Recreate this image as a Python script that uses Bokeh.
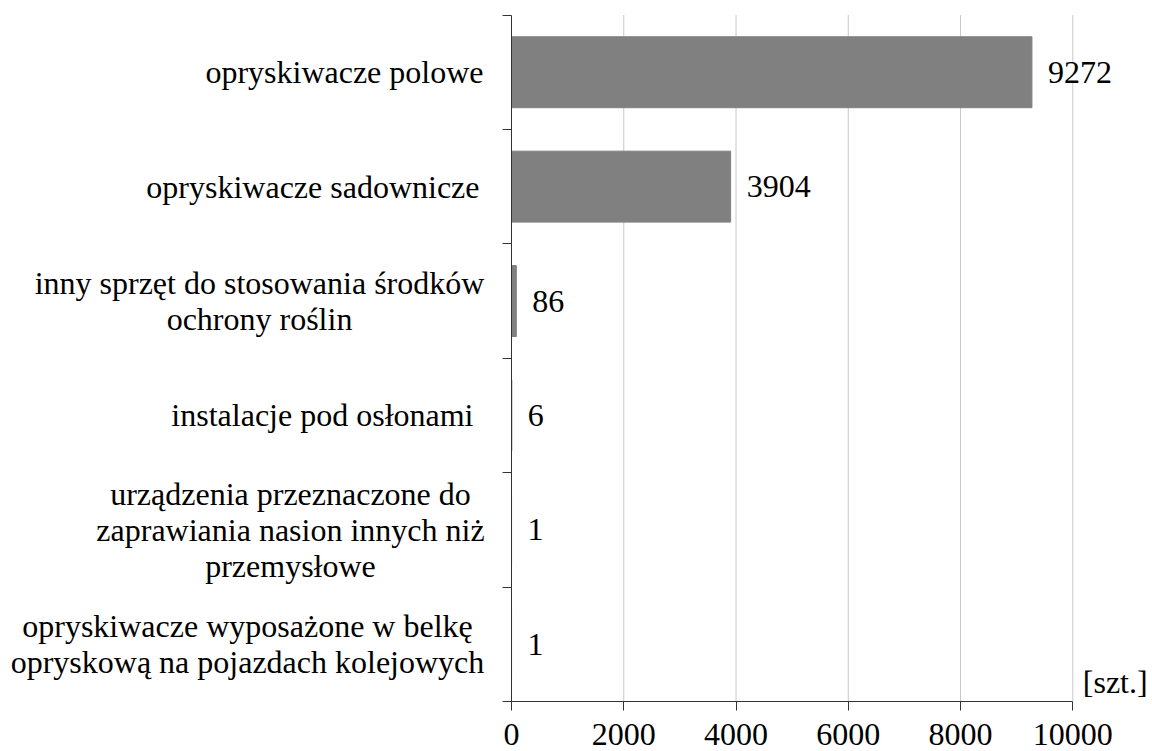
from bokeh.plotting import figure
from bokeh.models import Range1d, FixedTicker, Label, LabelSet, ColumnDataSource
from bokeh.core.properties import value, field
from bokeh.embed import file_html
from bokeh.resources import INLINE

# ---- data ----
categories = [
    "opryskiwacze polowe",
    "opryskiwacze sadownicze",
    "inny sprzęt do stosowania środków\nochrony roślin",
    "instalacje pod osłonami",
    "urządzenia przeznaczone do\nzaprawiania nasion innych niż\nprzemysłowe",
    "opryskiwacze wyposażone w belkę\nopryskową na pojazdach kolejowych",
]
values = [9272, 3904, 86, 6, 1, 1]
x_ticks = [0, 2000, 4000, 6000, 8000, 10000]
unit_label = "[szt.]"

# ---- layout / style ----
FONT = "Liberation Serif"
FS = "32px"
BAR_COLOR = "#808080"
AXIS_COLOR = "#333333"
GRID_COLOR = "#c8c8c8"
W, H = 1152, 751
X0_PX, X1_PX = 511.0, 1072.3      # pixel position of x=0 and x=10000
Y0_PX, Y1_PX = 14.5, 701.0        # pixel position of top / bottom category boundary

n = len(categories)
ypos = [i + 0.5 for i in range(n)]
xmax = x_ticks[-1]

sx = (X1_PX - X0_PX) / xmax
sy = (Y1_PX - Y0_PX) / n
x_start = -X0_PX / sx
x_end = xmax + (W - X1_PX) / sx
y_top = -Y0_PX / sy
y_bottom = n + (H - Y1_PX) / sy

p = figure(
    width=W, height=H,
    x_range=Range1d(x_start, x_end), y_range=Range1d(y_bottom, y_top),
    output_backend="svg", toolbar_location=None,
    min_border_left=0, min_border_right=0,
    min_border_top=0, min_border_bottom=0,
)
p.outline_line_color = None
p.background_fill_color = "white"
p.border_fill_color = "white"
p.xgrid.visible = False
p.ygrid.visible = False

# vertical grid lines (only over the category area)
p.segment(x0=x_ticks[1:], y0=0, x1=x_ticks[1:], y1=n,
          line_color=GRID_COLOR, line_width=1)

src = ColumnDataSource(dict(y=ypos, v=values, txt=[str(v) for v in values]))
p.hbar(y="y", right="v", left=0, height=0.62, source=src,
       fill_color=BAR_COLOR, line_color=BAR_COLOR)

# x axis
xa = p.xaxis[0]
xa.fixed_location = n
xa.bounds = (0, xmax)
xa.ticker = FixedTicker(ticks=x_ticks)
xa.axis_line_color = AXIS_COLOR
xa.major_tick_line_color = AXIS_COLOR
xa.major_tick_out = 9
xa.major_tick_in = 0
xa.minor_tick_line_color = None
xa.major_label_text_font = FONT
xa.major_label_text_font_size = FS
xa.major_label_text_color = "black"
xa.major_label_standoff = 13

# y axis: only tick marks on category boundaries
ya = p.yaxis[0]
ya.fixed_location = 0
ya.bounds = (0, n)
ya.ticker = FixedTicker(ticks=[], minor_ticks=list(range(n + 1)))
ya.axis_line_color = AXIS_COLOR
ya.major_tick_line_color = None
ya.minor_tick_line_color = AXIS_COLOR
ya.minor_tick_out = 9
ya.minor_tick_in = 0

# category labels
label_align = ["right", "right", "center", "right", "center", "center"]
label_offset = [-28, -32, -252, -38, -221, -264]
csrc = ColumnDataSource(dict(x=[0] * n, y=ypos, text=categories,
                             align=label_align, off=label_offset))
p.text(x="x", y="y", text="text", source=csrc, x_offset="off",
       text_align=field("align"), text_baseline="middle",
       text_font=value(FONT), text_font_size=value(FS), text_color="black",
       text_line_height=0.99)

# value labels
p.add_layout(LabelSet(
    x="v", y="y", text="txt", source=src, x_offset=16,
    text_align="left", text_baseline="middle",
    text_font=FONT, text_font_size=FS, text_color="black",
    background_fill_color="white",
))

# unit label
p.add_layout(Label(
    x=xmax, y=n, x_offset=10, y_offset=20, text=unit_label,
    text_align="left", text_baseline="middle",
    text_font=FONT, text_font_size=FS, text_color="black",
))

open("out.html", "w").write(file_html(p, INLINE))
